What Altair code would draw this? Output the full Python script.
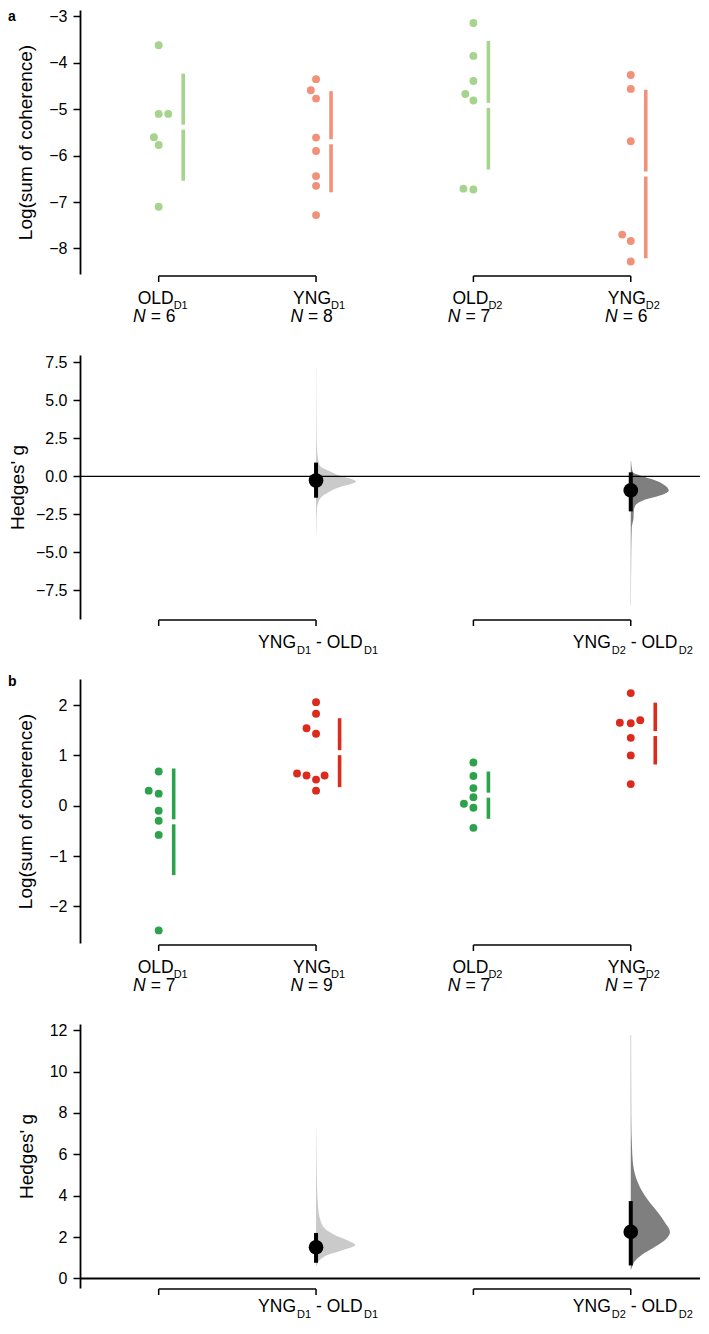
import altair as alt
import pandas as pd

FONT = "Liberation Sans"

# ---------------- data ----------------
positions = [1, 2, 3, 4]
main_labels = ["OLD", "YNG", "OLD", "YNG"]
sub_labels = ["D1", "D1", "D2", "D2"]
pairs = [(1, 2), (3, 4)]  # (control, test)

# panel a: raw values
a_vals = [
    [-3.62, -5.10, -5.10, -5.60, -5.77, -7.10],
    [-4.35, -4.59, -4.77, -5.61, -5.90, -6.44, -6.65, -7.28],
    [-3.14, -3.85, -4.39, -4.67, -4.81, -6.71, -6.73],
    [-4.26, -4.56, -5.69, -7.70, -7.84, -8.28],
]
a_dodge = [
    [0, 0, 1, -0.5, 0, 0],
    [0, -0.55, 0, 0, 0, 0, 0, 0],
    [0, 0, 0, -0.85, 0, -1.05, 0],
    [0, 0, 0, -0.9, 0, 0],
]
a_n = [6, 8, 7, 6]
a_mean = [-5.385, -5.70, -4.915, -6.395]
a_sd = [1.155, 1.09, 1.385, 1.815]
a_colors = ["#a6d48e", "#f1917a", "#a6d48e", "#f1917a"]

# panel a: Hedges' g
a_g = [-0.28, -0.93]
a_g_lo = [-1.41, -2.31]
a_g_hi = [0.90, 0.26]
a_dist1_v = [7.1, 3.0, 1.97, 1.11, 0.68, 0.36, 0.04, -0.15, -0.35, -0.53, -0.71, -1.03, -1.46, -2.1, -3.0, -3.8]
a_dist1_d = [0.005, 0.012, 0.02, 0.05, 0.1, 0.32, 0.6, 0.85, 1.0, 0.85, 0.6, 0.32, 0.1, 0.025, 0.012, 0.005]
a_dist2_v = [1.0, 0.26, 0.04, -0.17, -0.5, -0.93, -1.25, -1.57, -1.89, -2.3, -2.75, -3.39, -5.0, -8.5]
a_dist2_d = [0.008, 0.05, 0.25, 0.5, 0.8, 0.95, 0.75, 0.32, 0.12, 0.075, 0.07, 0.025, 0.012, 0.005]

# panel b: raw values
b_vals = [
    [0.68, 0.30, 0.24, -0.10, -0.30, -0.58, -2.48],
    [2.06, 1.83, 1.54, 1.43, 0.64, 0.60, 0.52, 0.60, 0.30],
    [0.86, 0.59, 0.35, 0.17, 0.04, -0.04, -0.44],
    [2.24, 1.70, 1.65, 1.64, 1.35, 1.00, 0.43],
]
b_dodge = [
    [0, -1.05, 0, 0, 0, 0, 0],
    [0, 0, -1, 0, -2, -1, 0, 0.9, 0],
    [0, 0, 0, 0, -1, 0, 0],
    [0, 1, -1.15, 0, 0, 0, 0],
]
b_n = [7, 9, 7, 7]
b_mean = [-0.32, 1.055, 0.21, 1.435]
b_sd = [1.06, 0.685, 0.47, 0.615]
b_colors = ["#2ca24c", "#dc2a1c", "#2ca24c", "#dc2a1c"]

# panel b: Hedges' g
b_g = [1.51, 2.25]
b_g_lo = [0.76, 0.63]
b_g_hi = [2.20, 3.74]
b_dist1_v = [7.28, 5.5, 4.45, 3.5, 2.88, 2.41, 2.09, 1.85, 1.62, 1.38, 1.15, 0.91, 0.67, 0.55]
b_dist1_d = [0.005, 0.015, 0.025, 0.05, 0.1, 0.22, 0.48, 0.78, 0.98, 0.68, 0.3, 0.1, 0.025, 0.0]
b_dist2_v = [11.76, 7.9, 6.02, 5.08, 4.45, 3.82, 3.19, 2.72, 2.25, 1.77, 1.46, 1.15, 0.83, 0.52, 0.4]
b_dist2_d = [0.008, 0.012, 0.038, 0.1, 0.22, 0.42, 0.68, 0.85, 0.98, 0.8, 0.55, 0.28, 0.1, 0.025, 0.0]

dist_colors = ["#cacaca", "#7f7f7f"]

# ---------------- layout ----------------
W = 620
H = 264
X_DOMAIN = [0.5, 4.44]
UNIT_PX = W / (X_DOMAIN[1] - X_DOMAIN[0])
DODGE = 9.5 / UNIT_PX
BAR_GAP = 15 / UNIT_PX
VIOLIN = 40 / UNIT_PX

xscale = alt.Scale(domain=X_DOMAIN, nice=False, zero=False)


def X(field="x"):
    return alt.X(field, type="quantitative", scale=xscale, axis=None)


def make_y(domain, ticks, title, fmt, title_pad):
    def Y(field="v"):
        return alt.Y(
            field,
            type="quantitative",
            scale=alt.Scale(domain=domain, nice=False, zero=False),
            axis=alt.Axis(values=ticks, title=title, format=fmt, titlePadding=title_pad),
        )
    return Y


def text_layer(df, text, y, dx, align, size, italic=False):
    kw = dict(font=FONT, fontSize=size, color="black", align=align, baseline="alphabetic", dx=dx)
    if italic:
        kw["fontStyle"] = "italic"
    return alt.Chart(df).mark_text(**kw).encode(x=X(), y=alt.value(y), text=alt.Text(text, type="nominal"))


def brackets(yoff):
    hdf = pd.DataFrame([{"x": a, "x2": b} for a, b in pairs])
    vdf = pd.DataFrame({"x": positions})
    h = alt.Chart(hdf).mark_rule(color="black", strokeWidth=1.5).encode(
        x=X(), x2="x2", y=alt.value(H + yoff))
    v = alt.Chart(vdf).mark_rule(color="black", strokeWidth=1.5).encode(
        x=X(), y=alt.value(H + yoff), y2=alt.value(H + yoff + 6))
    return [h, v]


def letter_layer(letter, y):
    return alt.Chart(pd.DataFrame({"t": [letter]})).mark_text(
        font=FONT, fontSize=14, fontWeight="bold", color="black", align="left", baseline="alphabetic"
    ).encode(x=alt.value(-72), y=alt.value(y), text="t:N")


def raw_panel(vals, dodges, means, sds, colors, ns, domain, ticks, letter):
    Y = make_y(domain, ticks, "Log(sum of coherence)", "d", 13)
    pts, bars, gaps = [], [], []
    for p, vs, ds, c in zip(positions, vals, dodges, colors):
        for v, d in zip(vs, ds):
            pts.append({"x": p + d * DODGE, "v": v, "c": c})
    for p, ds, m, s, c in zip(positions, dodges, means, sds, colors):
        bx = p + max(ds) * DODGE + BAR_GAP
        bars.append({"x": bx, "v": m + s, "v2": m - s, "c": c})
        gaps.append({"x": bx, "v": m})
    pts, bars, gaps = pd.DataFrame(pts), pd.DataFrame(bars), pd.DataFrame(gaps)

    points = alt.Chart(pts).mark_circle(size=62, opacity=1).encode(
        x=X(), y=Y(), color=alt.Color("c:N", scale=None))
    bar = alt.Chart(bars).mark_rule(strokeWidth=3.6).encode(
        x=X(), y=Y(), y2="v2", color=alt.Color("c:N", scale=None))
    gap = alt.Chart(gaps).mark_tick(orient="horizontal", thickness=5, size=10, color="white", opacity=1).encode(
        x=X(), y=Y())

    lab = pd.DataFrame({
        "x": positions,
        "main": main_labels,
        "sub": sub_labels,
        "N": ["N"] * 4,
        "n": [f"= {n}" for n in ns],
    })
    layers = [points, bar, gap] + brackets(2) + [
        text_layer(lab, "main", H + 30, 15, "right", 17.5),
        text_layer(lab, "sub", H + 35, 15, "left", 11),
        text_layer(lab, "N", H + 48, -13, "right", 17.5, italic=True),
        text_layer(lab, "n", H + 48, -8, "left", 17.5),
        letter_layer(letter, 11 if letter == "a" else 7),
    ]
    return alt.layer(*layers).properties(width=W, height=H)


def eff_panel(g, lo, hi, dists, domain, ticks, fmt, zero_w, lab_y, title_pad):
    Y = make_y(domain, ticks, "Hedges' g", fmt, title_pad)
    layers = []
    for (vv, dd), col, (c0, t0) in zip(dists, dist_colors, pairs):
        ddf = pd.DataFrame({"v": vv, "x": [t0] * len(vv), "x2": [t0 + d * VIOLIN for d in dd]})
        layers.append(
            alt.Chart(ddf).mark_area(orient="horizontal", color=col, opacity=1, interpolate="monotone").encode(
                y=Y(), x=X(), x2="x2")
        )
    zero = alt.Chart(pd.DataFrame({"v": [0.0]})).mark_rule(color="black", strokeWidth=zero_w).encode(y=Y())
    layers.append(zero)
    edf = pd.DataFrame({"x": [t for _, t in pairs], "v": g, "lo": lo, "hi": hi})
    ci = alt.Chart(edf).mark_rule(color="black", strokeWidth=4).encode(x=X(), y=Y("lo"), y2="hi")
    dot = alt.Chart(edf).mark_circle(size=215, color="black", opacity=1).encode(x=X(), y=Y())
    layers += [ci, dot]
    layers += brackets(1)
    lab = pd.DataFrame({
        "x": [t for _, t in pairs],
        "tmain": [main_labels[t - 1] for _, t in pairs],
        "tsub": [sub_labels[t - 1] for _, t in pairs],
        "cmain": ["- " + main_labels[c - 1] for c, _ in pairs],
        "csub": [sub_labels[c - 1] for c, _ in pairs],
    })
    layers += [
        text_layer(lab, "tmain", H + lab_y, -20, "right", 17.5),
        text_layer(lab, "tsub", H + lab_y + 6, -19, "left", 11),
        text_layer(lab, "cmain", H + lab_y, 0, "left", 17.5),
        text_layer(lab, "csub", H + lab_y + 6, 48, "left", 11),
    ]
    return alt.layer(*layers).properties(width=W, height=H)


p1 = raw_panel(a_vals, a_dodge, a_mean, a_sd, a_colors, a_n, [-8.55, -2.86], [-8, -7, -6, -5, -4, -3], "a")
p2 = eff_panel(a_g, a_g_lo, a_g_hi, [(a_dist1_v, a_dist1_d), (a_dist2_v, a_dist2_d)],
               [-9.39, 7.98], [-7.5, -5.0, -2.5, 0.0, 2.5, 5.0, 7.5], ".1f", 1.3, 29, 8)
p3 = raw_panel(b_vals, b_dodge, b_mean, b_sd, b_colors, b_n, [-2.73, 2.52], [-2, -1, 0, 1, 2], "b")
p4 = eff_panel(b_g, b_g_lo, b_g_hi, [(b_dist1_v, b_dist1_d), (b_dist2_v, b_dist2_d)],
               [-0.46, 12.3], [0, 2, 4, 6, 8, 10, 12], "d", 1.8, 24, 13)

top = alt.vconcat(p1, p2, spacing=81, bounds="flush")
bottom = alt.vconcat(p3, p4, spacing=81, bounds="flush")

chart = (
    alt.vconcat(top, bottom, spacing=19)
    .properties(padding=0)
    .configure_view(stroke=None)
    .configure_axis(
        domainColor="black", domainWidth=1.8, tickColor="black", tickWidth=1.5, tickSize=7,
        labelFont=FONT, labelFontSize=16, labelColor="black", labelPadding=6,
        titleFont=FONT, titleFontSize=19, titleFontWeight="normal", titleColor="black",
        grid=False,
    )
)

chart.save("out.html", embed_options={"renderer": "svg", "actions": False})
